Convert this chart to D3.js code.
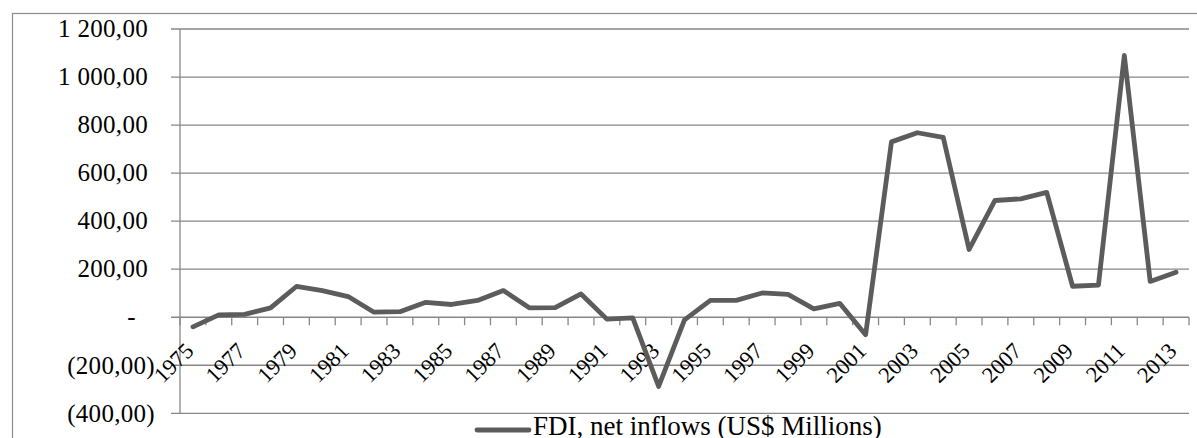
<!DOCTYPE html>
<html>
<head>
<meta charset="utf-8">
<script src="https://cdn.jsdelivr.net/npm/d3@7"></script>
<style>
  html, body { margin: 0; padding: 0; background: #fff; }
  svg { display: block; font-family: "Liberation Serif", "Times New Roman", serif; }
</style>
</head>
<body>
<svg id="chart" width="1197" height="438"></svg>
<script>
// FDI, net inflows (US$ Millions), 1975–2013
const years = d3.range(1975, 2014);
const fdiValues = [
  -40, 10, 12, 39, 128, 111, 86, 21, 23, 62,
  53, 70, 111, 39, 40, 97, -8, -3, -288, -11,
  70, 70, 101, 95, 35, 58, -73, 730, 768, 749,
  282, 486, 493, 520, 129, 134, 1090, 149, 187
];
const yTicks = [-400, -200, 0, 200, 400, 600, 800, 1000, 1200];
const seriesName = "FDI, net inflows (US$ Millions)";

const svg = d3.select("#chart");
const W = 1197, H = 438;
const plot = { left: 180, right: 1189, top: 29, bottom: 413.3 };
const gridColor = "#878787";
const lineColor = "#5c5c5c";

// outer chart frame
svg.append("rect")
  .attr("x", 12.5).attr("y", 13.5)
  .attr("width", W).attr("height", H)
  .attr("fill", "none").attr("stroke", "#8c8c8c").attr("stroke-width", 1.2);

const x = d3.scaleBand().domain(years).range([plot.left, plot.right]).padding(0);
const y = d3.scaleLinear().domain([-400, 1200]).range([plot.bottom, plot.top]);

// number format: space thousands, comma decimals, negatives in parentheses
function fmt(v) {
  if (v === 0) return "-";
  const a = Math.abs(v).toFixed(2).split(".");
  const int = a[0].replace(/\B(?=(\d{3})+(?!\d))/g, " ");
  const s = int + "," + a[1];
  return v < 0 ? "(" + s + ")" : s;
}

// horizontal gridlines (extending left as outside tick marks)
svg.append("g").selectAll("line").data(yTicks).join("line")
  .attr("x1", plot.left - 9).attr("x2", plot.right)
  .attr("y1", d => y(d)).attr("y2", d => y(d))
  .attr("stroke", gridColor).attr("stroke-width", 1.3);

// vertical value axis line
svg.append("line")
  .attr("x1", plot.left).attr("x2", plot.left)
  .attr("y1", y(1200)).attr("y2", y(-400))
  .attr("stroke", gridColor).attr("stroke-width", 1.3);

// value axis labels
svg.append("g").selectAll("text").data(yTicks).join("text")
  .attr("x", d => d < 0 ? 155 : (d === 0 ? 136 : 148))
  .attr("y", d => y(d))
  .attr("dy", "0.33em")
  .attr("text-anchor", "end")
  .attr("font-size", 25)
  .attr("letter-spacing", 0.3)
  .attr("fill", "#000")
  .text(fmt);

// category axis at zero with tick marks at category boundaries
const y0 = y(0);
const boundaries = years.map(d => x(d)).concat([plot.right]);
svg.append("g").selectAll("line").data(boundaries).join("line")
  .attr("x1", d => d).attr("x2", d => d)
  .attr("y1", y0).attr("y2", y0 + 8)
  .attr("stroke", gridColor).attr("stroke-width", 1.3);

// category labels, every other year, rotated
const labelYears = years.filter((d, i) => i % 2 === 0);
svg.append("g").selectAll("text").data(labelYears).join("text")
  .attr("transform", d => `translate(${x(d) + x.bandwidth() / 2 + 2},${y0 + 35}) rotate(-45)`)
  .attr("text-anchor", "end")
  .attr("font-size", 22.5)
  .attr("fill", "#000")
  .text(d => d);

// data line
const line = d3.line()
  .x((d, i) => x(years[i]) + x.bandwidth() / 2)
  .y(d => y(d));
svg.append("path")
  .datum(fdiValues)
  .attr("d", line)
  .attr("fill", "none")
  .attr("stroke", lineColor)
  .attr("stroke-width", 4.8)
  .attr("stroke-linejoin", "round")
  .attr("stroke-linecap", "round");

// legend
const lg = svg.append("g");
lg.append("line")
  .attr("x1", 477).attr("x2", 529)
  .attr("y1", 430).attr("y2", 430)
  .attr("stroke", lineColor).attr("stroke-width", 4.8)
  .attr("stroke-linecap", "round");
lg.append("text")
  .attr("x", 533).attr("y", 435)
  .attr("font-size", 27)
  .attr("fill", "#000")
  .text(seriesName);
</script>
</body>
</html>
